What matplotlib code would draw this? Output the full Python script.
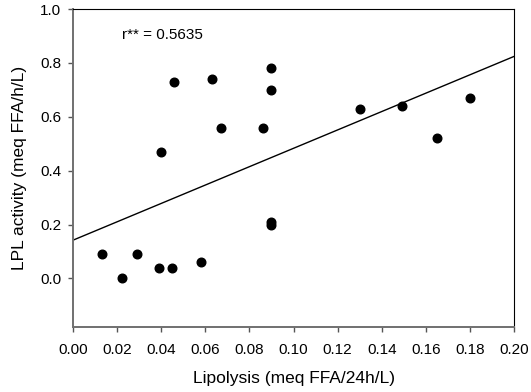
import matplotlib
matplotlib.use("Agg")
import matplotlib.pyplot as plt
import numpy as np

plt.rcParams['font.family'] = ['Liberation Sans', 'DejaVu Sans']

# Lipolysis (x) vs LPL activity (y)
lipolisis = [0.013, 0.022, 0.029, 0.039, 0.045, 0.058, 0.040, 0.046, 0.063, 0.067,
             0.086, 0.090, 0.090, 0.090, 0.090, 0.130, 0.149, 0.165, 0.180]
lpl = [0.09, 0.00, 0.09, 0.04, 0.04, 0.06, 0.47, 0.73, 0.74, 0.56,
       0.56, 0.78, 0.70, 0.21, 0.20, 0.63, 0.64, 0.52, 0.67]

# recta de regresion
recta_x = [0.0, 0.2]
recta_y = [0.142, 0.824]

fig = plt.figure(figsize=(5.31, 3.92), dpi=100)
ax = fig.add_axes([0.1375, 0.166, 0.8305, 0.811])

ax.plot(recta_x, recta_y, color='black', lw=1)
ax.plot(lipolisis, lpl, 'o', color='black', ms=6.2)

ax.set_xlim(0, 0.2)
ax.set_ylim(-0.18, 1.0)
ax.set_xticks(np.arange(0, 0.201, 0.02))
ax.set_xticklabels(['%.2f' % v for v in np.arange(0, 0.201, 0.02)])
ax.set_yticks([0.0, 0.2, 0.4, 0.6, 0.8, 1.0])
ax.set_yticklabels(['0.0', '0.2', '0.4', '0.6', '0.8', '1.0'])
ax.tick_params(direction='out', length=3.6, width=1, labelsize=11, color='#555555')
ax.tick_params(axis='x', pad=8)
ax.tick_params(axis='y', pad=5)

for s in ['left', 'bottom']:
    ax.spines[s].set_color('#707070')
    ax.spines[s].set_linewidth(1.4)
for s in ['top', 'right']:
    ax.spines[s].set_color('black')
    ax.spines[s].set_linewidth(0.8)

ax.set_xlabel('Lipolysis (meq FFA/24h/L)', fontsize=12.5, labelpad=10)
ax.set_ylabel('LPL activity (meq FFA/h/L)', fontsize=12.5, labelpad=9)
ax.text(0.022, 0.905, 'r** = 0.5635', fontsize=11, va='center')

fig.savefig('out.png', dpi=100)
